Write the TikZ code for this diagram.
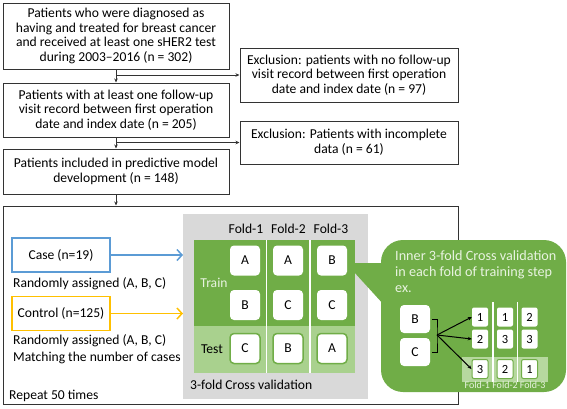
\documentclass[tikz,border=0pt]{standalone}
\usepackage{fontspec}
\setmainfont{Carlito}
\usetikzlibrary{arrows.meta}
\definecolor{gr}{HTML}{70AD47}
\definecolor{lgr}{HTML}{A9D18E}
\definecolor{gry}{HTML}{D9D9D9}
\definecolor{bl}{HTML}{5B9BD5}
\definecolor{yl}{HTML}{FFC000}
\definecolor{txtl}{HTML}{E8F3E0}
\definecolor{lineblk}{HTML}{333333}
\begin{document}
\begin{tikzpicture}[x=1pt,y=-1pt,
  font=\fontsize{13.6}{14.6}\selectfont,
  flow/.style={draw=lineblk, line width=1pt, fill=white, align=center, inner sep=0pt},
  arr/.style={draw=lineblk, line width=0.7pt, -{Stealth[length=4pt,width=3.5pt]}},
  colbox/.style={line width=1.5pt, minimum width=98pt, minimum height=34pt, inner sep=0pt},
  plain/.style={anchor=west, inner sep=0pt},
  fbox/.style={fill=white, rounded corners=4pt, minimum width=30pt, minimum height=30pt, inner sep=0pt},
  fboxt/.style={fbox, draw=gr, line width=1.5pt},
  sbox/.style={fill=white, rounded corners=2pt, minimum width=16pt, minimum height=19pt, inner sep=0pt, font=\fontsize{12.5}{13}\selectfont},
  sboxt/.style={sbox, draw=gr, line width=1pt},
  sep/.style={draw=white, line width=1.8pt},
  foldlab/.style={inner sep=0pt},
  sfold/.style={inner sep=0pt, text=txtl, font=\fontsize{10}{11}\selectfont}
]
\useasboundingbox (0,0) rectangle (567,408);

% top flow
\node[flow, minimum width=226pt, minimum height=66pt] (b1) at (116,36)
  {Patients who were diagnosed as\\having and treated for breast cancer\\and received at least one sHER2 test\\during 2003--2016 (n = 302)};
\node[flow, minimum width=226pt, minimum height=54pt] (b2) at (116,110)
  {Patients with at least one follow-up\\visit record between first operation\\date and index date (n = 205)};
\node[flow, minimum width=226pt, minimum height=45pt] (b3) at (116,171.5)
  {Patients included in predictive model\\development (n = 148)};
\node[flow, minimum width=218pt, minimum height=54pt] (e1) at (349,75)
  {Exclusion: patients with no follow-up\\visit record between first operation\\date and index date (n = 97)};
\node[flow, minimum width=218pt, minimum height=43pt] (e2) at (349,142.5)
  {Exclusion: Patients with incomplete\\data (n = 61)};

% big frame
\node[draw=lineblk, line width=1pt, minimum width=455pt, minimum height=198pt, inner sep=0pt] (frame) at (230.5,305) {};

\draw[arr] (b1.south) -- (b2.north);
\draw[arr] (b1.south |- e1.west) -- (e1.west);
\draw[arr] (b2.south) -- (b3.north);
\draw[arr] (b2.south |- e2.west) -- (e2.west);
\draw[arr] (b3.south) -- (b3.south |- frame.north);

% left part
\node[colbox, draw=bl] (case) at (61,255) {Case (n=19)};
\node[colbox, draw=yl] (ctrl) at (61,313.5) {Control (n=125)};
\node[plain] (t1) at (13,283.5) {Randomly assigned (A, B, C)};
\node[plain] (t2) at (13,340.5) {Randomly assigned (A, B, C)};
\node[plain] (t3) at (13,357.5) {Matching the number of cases};
\node[plain] (t4) at (9,396) {Repeat 50 times};

% gray cross-validation panel
\node[fill=gry, minimum width=185pt, minimum height=185pt, inner sep=0pt] (gray) at (275.5,306.5) {};
\node[fill=gr, minimum width=161pt, minimum height=133pt, inner sep=0pt] (green) at (274.5,306.5) {};
\node[fill=lgr, minimum width=161pt, minimum height=47pt, inner sep=0pt] (test) at (274.5,349.5) {};
\draw[sep] (266.5,240) -- (266.5,373);
\draw[sep] (310,240) -- (310,373);

\coordinate (rr) at (183,255);
\draw[bl, line width=1.5pt, -{Straight Barb[length=5pt,width=11pt]}] (case.east) -- (rr);
\coordinate (ry) at (183,313.5);
\draw[yl, line width=1.5pt, -{Straight Barb[length=5pt,width=11pt]}] (ctrl.east) -- (ry);

\node[foldlab] (f1) at (246,229) {Fold-1};
\node[foldlab] (f2) at (288.5,229) {Fold-2};
\node[foldlab] (f3) at (331,229) {Fold-3};

\node[fbox] (a11) at (245,260.5) {A};
\node[fbox] (a12) at (288,260.5) {A};
\node[fbox] (a13) at (332,260.5) {B};
\node[fbox] (a21) at (245,305) {B};
\node[fbox] (a22) at (288,305) {C};
\node[fbox] (a23) at (332,305) {C};
\node[fboxt] (a31) at (245,348.5) {C};
\node[fboxt] (a32) at (288,348.5) {B};
\node[fboxt] (a33) at (332,348.5) {A};

\node[inner sep=0pt, text=txtl] (train) at (214,283) {Train};
\node[inner sep=0pt] (testl) at (212,349) {Test};
\node[plain] (cvl) at (190,385) {3-fold Cross validation};

% callout
\fill[gr, rounded corners=22pt] (381,240) rectangle (566,392);
\fill[gr] (354,263) -- (385,263) -- (385,306) -- (354,272) -- cycle;
\node[anchor=north west, inner sep=0pt, align=left, text=txtl, font=\fontsize{14.2}{16.2}\selectfont] (ctext) at (395,250)
  {Inner 3-fold Cross validation\\in each fold of training step\\ex.};

\node[fbox, minimum height=28pt] (iB) at (415,319) {B};
\node[fbox, minimum height=28pt] (iC) at (415,352) {C};

\node[fill=lgr!85!white, minimum width=86pt, minimum height=25pt, inner sep=0pt] (itest) at (505,369) {};
\draw[sep, line width=1.3pt] (493,302) -- (493,381.5);
\draw[sep, line width=1.3pt] (517.5,302) -- (517.5,381.5);

\node[sbox] (s11) at (480,317) {1};
\node[sbox] (s12) at (505,317) {1};
\node[sbox] (s13) at (529.5,317) {2};
\node[sbox] (s21) at (480,339) {2};
\node[sbox] (s22) at (505,339) {3};
\node[sbox] (s23) at (529.5,339) {3};
\node[sboxt] (s31) at (480,369) {3};
\node[sboxt] (s32) at (505,369) {2};
\node[sboxt] (s33) at (529.5,369) {1};

\node[sfold, anchor=north] (glab) at (505,381.5) {Fold-1 Fold-2 Fold-3};

\coordinate (bk) at (437,335);
\draw[black, line width=1pt] ([xshift=2pt]iB.east) -| (bk) |- ([xshift=2pt]iC.east);
\draw[black, line width=1pt, -{Stealth[length=4pt,width=3.5pt]}] (bk) -- (s11.west);
\draw[black, line width=1pt, -{Stealth[length=4pt,width=3.5pt]}] (bk) -- (s21.west);
\draw[black, line width=1pt, -{Stealth[length=4pt,width=3.5pt]}] (bk) -- (s31.west);
\end{tikzpicture}
\end{document}
